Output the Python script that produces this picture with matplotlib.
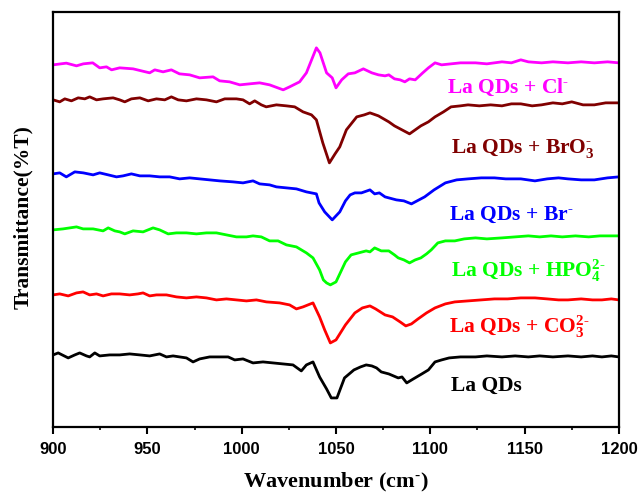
import matplotlib
matplotlib.use('Agg')
import matplotlib.pyplot as plt
from matplotlib.ticker import MultipleLocator

plt.rcParams['mathtext.fontset'] = 'custom'
plt.rcParams['mathtext.rm'] = 'Liberation Serif:bold'
plt.rcParams['mathtext.it'] = 'Liberation Serif:bold'
plt.rcParams['mathtext.bf'] = 'Liberation Serif:bold'

# FTIR spectra, stacked with offsets (arbitrary units)
wn_cl = [900, 907, 912.4, 916, 921, 924.7, 928.3, 931, 935.3, 942.4, 946.8, 951.2, 953.9,
         958.3, 962.7, 967, 972.4, 977.7, 984.8, 988.3, 993.6, 999, 1004.2, 1009.5, 1014.8,
         1022, 1025.4, 1030.7, 1034.3, 1039.6, 1041.5, 1045, 1048, 1050, 1053, 1056.5, 1060,
         1064.5, 1069, 1072.5, 1076, 1078, 1081, 1084, 1086.5, 1089, 1092, 1096, 1099, 1102.5,
         1106, 1111, 1116, 1124, 1130, 1138, 1143, 1148, 1152, 1159, 1165, 1173, 1180, 1187,
         1194, 1200]
t_cl = [415, 416.7, 414, 416, 417, 412, 413, 410, 412, 411, 409, 407, 410,
        408, 410, 406, 405, 402, 403, 399, 398, 395, 396, 397, 395,
        390, 393, 398, 407, 432, 427, 407, 402, 392, 400, 406, 407,
        411, 407, 405, 404, 405, 401, 400, 398, 401, 400, 407, 412, 417,
        415, 416, 417, 417, 416, 418, 417, 420, 418, 417, 418, 417, 418, 417,
        418, 417]

wn_bro3 = [900, 903.5, 906.2, 909.7, 913.3, 916.8, 919.4, 923, 926.5, 931.8, 935.3, 938,
           941.5, 946, 950.4, 954.8, 959.2, 962.7, 966.3, 970.7, 976, 981.3, 986.6, 991,
           997.2, 1000.7, 1004.2, 1006.9, 1010.4, 1013, 1018.4, 1023.7, 1028.1, 1032.5, 1037,
           1039.6, 1043, 1046.5, 1049.5, 1052, 1055.5, 1061, 1065, 1068, 1072.5, 1078, 1081,
           1085, 1089, 1092, 1095, 1099, 1102.5, 1107, 1111, 1116, 1120, 1126, 1132, 1138,
           1143, 1148, 1154, 1159, 1165, 1170, 1175, 1181, 1187, 1193, 1200]
t_bro3 = [380, 378, 381, 379, 382, 381, 383, 380, 381, 382, 380, 378,
          381, 382, 379, 381, 380, 383, 380, 379, 381, 380, 378, 381,
          381, 380, 376, 379, 375, 373, 375, 374, 373, 368, 365,
          360, 337, 317, 326, 333, 350, 363, 365, 367, 364, 358, 354,
          350, 346, 350, 354, 358, 363, 368, 373, 374, 375, 374, 375, 374,
          376, 376, 374, 375, 377, 376, 378, 375, 375, 377, 377]

wn_br = [900, 903.5, 907, 911.5, 916, 921.2, 924.7, 929.2, 933.6, 937.1, 941.5, 946, 951.2,
         956.5, 961.8, 967.1, 972.4, 977.7, 983, 988.3, 995.4, 1000.7, 1006, 1009.5, 1014.8,
         1018.4, 1023.7, 1029, 1034.3, 1039.6, 1041, 1044, 1048, 1052, 1055, 1057.5, 1060,
         1063.5, 1068, 1070.5, 1073, 1076, 1078, 1082, 1086, 1090, 1093, 1097, 1102, 1108,
         1114, 1120, 1127, 1134, 1140, 1148, 1155.5, 1162, 1168, 1173, 1180, 1187, 1194, 1200]
t_br = [306, 307, 303, 308, 307, 305, 307, 305, 303, 304, 306, 304, 304,
        303, 303, 301, 302, 301, 300, 299, 298, 297, 299, 296, 295,
        293, 292, 291, 288, 286, 277, 268, 260, 268, 279, 285, 287,
        287, 290, 286, 287, 283, 282, 280, 279, 276, 279, 283, 290, 297,
        300, 301, 302, 302, 301, 301, 299, 301, 302, 301, 300, 300, 302, 303]

wn_hpo4 = [900, 905.3, 912.4, 915.9, 921.2, 926.5, 929.2, 932.7, 935.3, 938, 942.4, 947.7,
           953, 956.5, 961, 965.4, 970.7, 976, 981.3, 986.6, 991.9, 997.2, 1002.5, 1006,
           1010.4, 1014.8, 1019.3, 1023.7, 1029, 1034.3, 1037.8, 1041.3, 1043.3, 1045, 1047,
           1050, 1053, 1055, 1058, 1062, 1066, 1068, 1070.5, 1074, 1078, 1081, 1083, 1086,
           1089, 1092, 1095, 1098, 1100.5, 1104, 1108, 1113, 1118, 1124, 1130, 1138, 1145,
           1152, 1158, 1164, 1170, 1177, 1184, 1190, 1196, 1200]
t_hpo4 = [250, 251, 253, 251, 251, 249, 252, 249, 248, 246, 249, 248,
          252, 250, 246, 247, 247, 246, 247, 247, 245, 243, 243, 244,
          243, 239, 239, 235, 233, 227, 222, 210, 200, 197, 195,
          198, 210, 218, 225, 227, 229, 228, 232, 229, 229, 225, 222, 220,
          217, 220, 222, 226, 230, 237, 239, 239, 241, 242, 241, 242, 243,
          244, 243, 244, 243, 244, 243, 244, 244, 244]

wn_co3 = [900, 903.5, 908, 912.4, 915.9, 919.4, 923, 926.5, 930.9, 935.3, 940.6, 945,
          947.7, 951.2, 954.8, 960.1, 965.4, 970.7, 976, 981.3, 986.6, 991.9, 997.2, 1002.5,
          1007.8, 1013.1, 1020.1, 1025.4, 1029, 1032.5, 1037.8, 1041.3, 1044, 1047, 1050,
          1055, 1060, 1064, 1068, 1071, 1076, 1080, 1084, 1087, 1090, 1093.5, 1098, 1102.5,
          1108, 1113, 1120, 1127, 1134, 1141, 1148, 1155.5, 1162, 1168, 1173, 1180, 1186,
          1191, 1196, 1200]
t_co3 = [185, 186, 184, 187, 188, 185, 186, 184, 186, 186, 185, 186,
         187, 184, 185, 185, 183, 182, 183, 182, 180, 181, 180, 179,
         180, 178, 177, 175, 171, 173, 177, 163, 150, 137, 140,
         155, 167, 172, 174, 171, 165, 163, 158, 154, 156, 161, 167, 172,
         176, 178, 179, 180, 181, 181, 182, 182, 181, 180, 180, 181, 180,
         180, 181, 180]

wn_la = [900, 902.7, 908, 911.5, 914.1, 917.7, 919.4, 922.1, 924.7, 930, 935.3, 940.6, 946,
         951.2, 956.5, 960.1, 963.6, 967.1, 970.7, 974.2, 977.7, 983, 988.3, 992.8, 996.3,
         1000.7, 1006, 1011.3, 1016.6, 1021.9, 1027.2, 1031.6, 1034.3, 1037.8, 1041.3, 1045,
         1047.5, 1050.5, 1054.5, 1059.5, 1063, 1066, 1069, 1071.5, 1074, 1078, 1083, 1085,
         1087.5, 1091, 1095.5, 1099, 1102.5, 1106, 1110, 1116, 1124, 1130, 1138, 1145, 1152,
         1158, 1165, 1173, 1180, 1186, 1191, 1196, 1200]
t_la = [125, 127, 122, 125, 127, 124, 123, 127, 124, 125, 125, 126, 125,
        124, 126, 123, 124, 123, 122, 118, 121, 123, 123, 123, 120,
        121, 117, 118, 117, 116, 115, 109, 115, 118, 103, 91,
        82, 82, 102, 110, 113, 115, 114, 112, 108, 106, 102, 103,
        97, 101, 106, 110, 118, 120, 122, 123, 123, 124, 123, 124, 123,
        124, 123, 124, 123, 124, 123, 124, 123]

series = [
    (wn_cl, t_cl, '#ff00ff', 'La QDs + Cl$^{‐}$', 1109, 387),
    (wn_bro3, t_bro3, '#800000', 'La QDs + BrO$_{3}^{‐}$', 1111, 327),
    (wn_br, t_br, '#0000ff', 'La QDs + Br$^{‐}$', 1110, 260),
    (wn_hpo4, t_hpo4, '#00ff00', 'La QDs + HPO$_{4}^{2‐}$', 1111, 203),
    (wn_co3, t_co3, '#ff0000', 'La QDs + CO$_{3}^{2‐}$', 1110, 147),
    (wn_la, t_la, '#000000', 'La QDs', 1111, 89),
]

fig = plt.figure(figsize=(6.4, 4.93), dpi=100)
ax = fig.add_axes([0.083, 0.134, 0.884, 0.842])

for x, y, c, lab, tx, ty in series:
    ax.plot(x, y, color=c, lw=2.0)
    ax.text(tx, ty, lab, color=c, fontsize=15.5, fontfamily='Liberation Serif',
            fontweight='bold', ha='left', va='baseline')

ax.set_xlim(900, 1200)
ax.set_ylim(53, 468)
ax.xaxis.set_major_locator(MultipleLocator(50))
ax.xaxis.set_minor_locator(MultipleLocator(25))
ax.tick_params(axis='x', which='major', direction='out', length=5, width=1.5,
               labelsize=12, pad=6)
ax.tick_params(axis='x', which='minor', direction='out', length=2.5, width=1.2)
ax.set_yticks([])
for lbl in ax.get_xticklabels():
    lbl.set_fontfamily('Liberation Sans')
    lbl.set_fontweight('bold')
for sp in ax.spines.values():
    sp.set_linewidth(1.6)

ax.set_xlabel('Wavenumber (cm$^{‐}$)', fontsize=16, fontfamily='Liberation Serif',
              fontweight='bold', labelpad=10)
ax.set_ylabel('Transmittance(%T)', fontsize=15.5, fontfamily='Liberation Serif',
              fontweight='bold')
ax.yaxis.set_label_coords(-0.036, 0.505)

fig.savefig('out.png', dpi=100)
